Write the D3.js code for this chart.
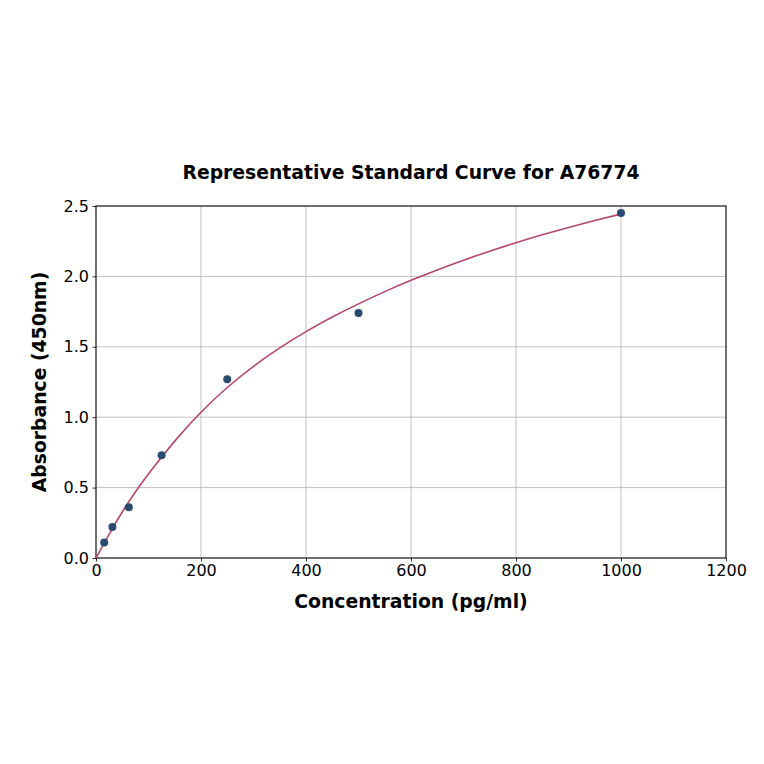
<!DOCTYPE html>
<html>
<head>
<meta charset="utf-8">
<script src="https://cdn.jsdelivr.net/npm/d3@7"></script>
<style>
body { margin: 0; background: #fff; }
</style>
</head>
<body>
<script>
// standard points
let concentration = [15.6, 31.25, 62.5, 125, 250, 500, 1000];
let absorbance = [0.11, 0.22, 0.36, 0.73, 1.27, 1.74, 2.45];

// fitted curve
let curveX = [0, 25, 50, 75, 100, 150, 200, 250, 300, 350, 400, 450, 500, 550, 600, 650, 700, 750, 800, 850, 900, 950, 1000];
let curveY = [0, 0.17, 0.33, 0.47, 0.60, 0.835, 1.04, 1.215, 1.365, 1.495, 1.61, 1.713, 1.806, 1.893, 1.973, 2.047, 2.116, 2.18, 2.24, 2.296, 2.348, 2.397, 2.443];

let xTicks = [0, 200, 400, 600, 800, 1000, 1200];
let yTicks = [0, 0.5, 1.0, 1.5, 2.0, 2.5];

let svg = d3.select("body").append("svg")
	.attr("width", 764)
	.attr("height", 764)
	.style("font-family", "'DejaVu Sans', sans-serif");

let margin = {top: 206, right: 38, bottom: 206, left: 96};
let innerWidth = 764 - margin.left - margin.right;
let innerHeight = 764 - margin.top - margin.bottom;

let scaleX = d3.scaleLinear().domain([0, 1200]).range([0, innerWidth]);
let scaleY = d3.scaleLinear().domain([0, 2.5]).range([innerHeight, 0]);

let g = svg.append("g")
	.attr("transform", `translate(${margin.left}, ${margin.top})`);

//grid lines
g.append("g").selectAll("line").data(xTicks).join("line")
	.attr("x1", d => scaleX(d)).attr("x2", d => scaleX(d))
	.attr("y1", 0).attr("y2", innerHeight)
	.attr("stroke", "#b0b0b0").attr("stroke-width", 0.8);

g.append("g").selectAll("line").data(yTicks).join("line")
	.attr("y1", d => scaleY(d)).attr("y2", d => scaleY(d))
	.attr("x1", 0).attr("x2", innerWidth)
	.attr("stroke", "#b0b0b0").attr("stroke-width", 0.8);

//axes
let xAxis = d3.axisBottom(scaleX).tickValues(xTicks).tickSize(3.5).tickPadding(3.5).tickFormat(d3.format("d"));
let yAxis = d3.axisLeft(scaleY).tickValues(yTicks).tickSize(3.5).tickPadding(3.5).tickFormat(d3.format(".1f"));

let xG = g.append("g")
	.attr("transform", `translate(0, ${innerHeight})`)
	.call(xAxis);
let yG = g.append("g").call(yAxis);

[xG, yG].forEach(a => {
	a.select(".domain").remove();
	a.selectAll("line").attr("stroke", "#000").attr("stroke-width", 0.8);
	a.selectAll("text").attr("font-size", 16).attr("fill", "#000").attr("font-family", "'DejaVu Sans', sans-serif");
});

//frame
g.append("rect")
	.attr("width", innerWidth).attr("height", innerHeight)
	.attr("fill", "none").attr("stroke", "#000").attr("stroke-width", 1);

//fitted curve
let line = d3.line()
	.x((d, i) => scaleX(curveX[i]))
	.y((d, i) => scaleY(curveY[i]))
	.curve(d3.curveBasis);

g.append("path")
	.datum(curveX)
	.attr("fill", "none")
	.attr("stroke", "#b5476b")
	.attr("stroke-width", 1.6)
	.attr("d", line);

//points
g.append("g").selectAll("circle").data(concentration).join("circle")
	.attr("cx", d => scaleX(d))
	.attr("cy", (d, i) => scaleY(absorbance[i]))
	.attr("r", 4)
	.attr("fill", "#2a4a72");

//title and labels
svg.append("text")
	.text("Representative Standard Curve for A76774")
	.attr("x", margin.left + innerWidth / 2)
	.attr("y", 179)
	.attr("text-anchor", "middle")
	.attr("font-size", 18.8)
	.attr("font-weight", "bold");

svg.append("text")
	.text("Concentration (pg/ml)")
	.attr("x", margin.left + innerWidth / 2)
	.attr("y", 608)
	.attr("text-anchor", "middle")
	.attr("font-size", 18.8)
	.attr("font-weight", "bold");

svg.append("text")
	.text("Absorbance (450nm)")
	.attr("transform", `translate(46, ${margin.top + innerHeight / 2}) rotate(-90)`)
	.attr("text-anchor", "middle")
	.attr("font-size", 18.8)
	.attr("font-weight", "bold");
</script>
</body>
</html>
